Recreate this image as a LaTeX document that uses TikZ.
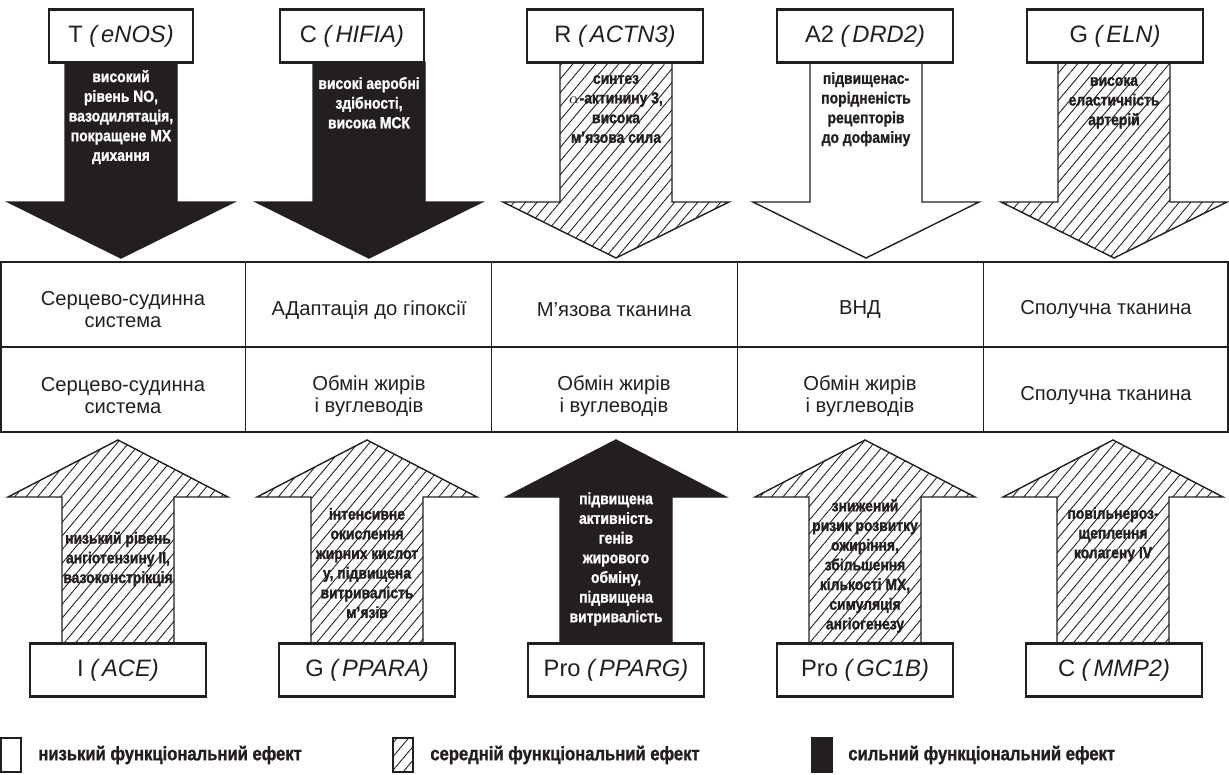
\documentclass[tikz,border=0pt]{standalone}
\usepackage{fontspec}
\setmainfont{Liberation Sans}
\newfontfamily\condbold{Liberation Sans Bold}[FakeStretch=0.86, FakeBold=1.2]
\usetikzlibrary{patterns.meta}
\definecolor{ink}{HTML}{231F20}

% arrow outlines, #1 = centre of the shaft (px)
\newcommand{\arrowdown}[1]{(#1-56,62) -- (#1-56,202) -- (#1-113,202) -- (#1,258) -- (#1+113,202) -- (#1+56,202) -- (#1+56,62) -- cycle}
\newcommand{\arrowup}[1]{(#1-56,643) -- (#1-56,497) -- (#1-110,497) -- (#1,440) -- (#1+110,497) -- (#1+56,497) -- (#1+56,643) -- cycle}

\tikzset{
  every picture/.style={line join=miter},
  genebox/.style={draw=ink, line width=1.3pt, fill=white, minimum width=3.53cm,
    minimum height=1.06cm, inner sep=0pt, font=\fontsize{13.5}{15}\selectfont, text=ink},
  genenarrow/.style={genebox, minimum width=2.87cm},
  strong/.style={fill=ink, draw=ink, line width=0.8pt},
  medium/.style={pattern={Lines[angle=50,distance=5pt,line width=0.5pt]},
    pattern color=ink, draw=ink, line width=0.8pt},
  weak/.style={fill=white, draw=ink, line width=0.8pt},
  effect/.style={font=\condbold\fontsize{9.2}{11.2}\selectfont, align=center, text=ink, inner sep=1pt},
  effectw/.style={effect, text=white},
  cell/.style={font=\fontsize{11.5}{12.5}\selectfont, align=center, text=ink},
  legendtext/.style={font=\condbold\fontsize{11}{12}\selectfont, anchor=west, text=ink, inner sep=0pt}
}

\begin{document}
\begin{tikzpicture}[x=0.02cm, y=-0.02cm]
  \useasboundingbox (0,0) rectangle (1229,774);

  % top arrows
  \draw[strong] \arrowdown{121};
  \draw[strong] \arrowdown{369};
  \draw[medium] \arrowdown{616};
  \draw[weak]   \arrowdown{866};
  \draw[medium] \arrowdown{1114};

  \node[genenarrow] (eNOS) at (121,36) {T \textit{(\,eNOS)}};
  \node[genenarrow] (HIFIA) at (352,36) {C \textit{(\,HIFIA)}};
  \node[genebox] (ACTN3) at (615,36) {R \textit{(\,ACTN3)}};
  \node[genebox] (DRD2) at (865,36) {A2 \textit{(\,DRD2)}};
  \node[genebox] (ELN) at (1115,36) {G \textit{(\,ELN)}};

  \node[effectw, anchor=north] (eNOSfx) at (121,68) {високий\\рівень NO,\\вазодилятація,\\покращене МХ\\дихання};
  \node[effectw, anchor=north] (HIFIAfx) at (369,75) {високі аеробні\\здібності,\\висока МСК};
  \node[effect, anchor=north] (ACTN3fx) at (616,73) {синтез\\{\normalfont$\alpha$}-актинину 3,\\висока\\м’язова сила};
  \node[effect, anchor=north] (DRD2fx) at (866,70) {підвищенас-\\порідненість\\рецепторів\\до дофаміну};
  \node[effect, anchor=north] (ELNfx) at (1114,75) {висока\\еластичність\\артерій};

  % table of systems
  \draw[ink, line width=0.7pt] (1,262) rectangle (1228,432);
  \draw[ink, line width=0.7pt] (1,347) -- (1228,347);
  \draw[ink, line width=0.7pt] (245.8,262) -- (245.8,432) (491.6,262) -- (491.6,432)
    (737.4,262) -- (737.4,432) (983.2,262) -- (983.2,432);

  \node[cell] (sys1) at (123,310) {Серцево-судинна\\система};
  \node[cell] (sys2) at (369,310) {АДаптація до гіпоксії};
  \node[cell] (sys3) at (614,310) {М’язова тканина};
  \node[cell] (sys4) at (860,310) {ВНД};
  \node[cell] (sys5) at (1106,310) {Сполучна тканина};
  \node[cell] (met1) at (123,396) {Серцево-судинна\\система};
  \node[cell] (met2) at (369,396) {Обмін жирів\\і вуглеводів};
  \node[cell] (met3) at (614,396) {Обмін жирів\\і вуглеводів};
  \node[cell] (met4) at (860,396) {Обмін жирів\\і вуглеводів};
  \node[cell] (met5) at (1106,396) {Сполучна тканина};

  % bottom arrows
  \draw[medium] \arrowup{118};
  \draw[medium] \arrowup{367};
  \draw[strong] \arrowup{616};
  \draw[medium] \arrowup{865};
  \draw[medium] \arrowup{1113};

  \node[genebox] (ACE) at (118,670) {I \textit{(\,ACE)}};
  \node[genebox] (PPARA) at (367,670) {G \textit{(\,PPARA)}};
  \node[genebox] (PPARG) at (616,670) {Pro \textit{(\,PPARG)}};
  \node[genebox] (GC1B) at (865,670) {Pro \textit{(\,GC1B)}};
  \node[genebox] (MMP2) at (1114,670) {C \textit{(\,MMP2)}};

  \node[effect] (ACEfx) at (118,559) {низький рівень\\ангіотензину II,\\вазоконстрікція};
  \node[effect] (PPARAfx) at (367,563) {інтенсивне\\окислення\\жирних кислот\\у, підвищена\\витривалість\\м’язів};
  \node[effectw] (PPARGfx) at (616,559) {підвищена\\активність\\генів\\жирового\\обміну,\\підвищена\\витривалість};
  \node[effect] (GC1Bfx) at (865,566) {знижений\\ризик розвитку\\ожиріння,\\збільшення\\кількості МХ,\\симуляція\\ангіогенезу};
  \node[effect, anchor=north] (MMP2fx) at (1113,505) {повільнероз-\\щеплення\\колагену IV};

  % legend
  \draw[weak] (1,738) rectangle (21,772);
  \node[legendtext] (lowfx) at (38,755) {низький функціональний ефект};
  \draw[medium] (393,738) rectangle (413,772);
  \node[legendtext] (midfx) at (430,755) {середній функціональний ефект};
  \draw[strong] (812,738) rectangle (832,772);
  \node[legendtext] (highfx) at (848,755) {сильний функціональний ефект};
\end{tikzpicture}
\end{document}
